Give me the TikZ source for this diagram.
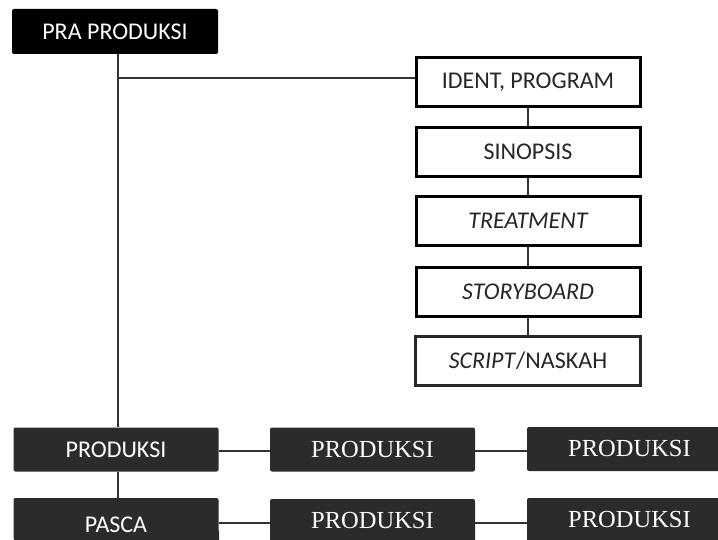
\documentclass[tikz,border=0pt]{standalone}
\usepackage{fontspec}
\setmainfont{Carlito}
\newfontfamily\serifface{Liberation Serif}
\definecolor{darkbox}{HTML}{2B2B2B}
\definecolor{lineclr}{HTML}{333333}
\begin{document}
\begin{tikzpicture}[x=1pt,y=-1pt,
  base/.style={inner sep=0pt, font=\fontsize{24}{26}\selectfont},
  blackbox/.style={base, fill=black, text=white, rounded corners=2pt, minimum width=206pt, minimum height=45pt},
  darkbox/.style={base, fill=darkbox, text=white, rounded corners=2pt, minimum width=205pt, minimum height=44pt},
  serifbox/.style={darkbox, font=\serifface\fontsize{24.5}{26}\selectfont},
  stackbox/.style={base, draw=black, line width=3pt, fill=white, text=black!85, minimum width=224pt, minimum height=49pt},
  thinbox/.style={base, draw=black!85, line width=2.2pt, fill=white, text=black!85, minimum width=225pt, minimum height=49pt},
  conn/.style={draw=lineclr, line width=1.6pt}
]
\clip (0,0) rectangle (718,540);
\fill[white] (0,0) rectangle (718,540);

% top
\node[blackbox] (pra) at (115,31.5) {\raisebox{-3pt}{PRA PRODUKSI}};
\node[stackbox] (ident) at (528,82) {IDENT, PROGRAM};
\node[stackbox] (sinop) at (528,152) {SINOPSIS};
\node[stackbox] (treat) at (528,221) {\itshape TREATMENT};
\node[stackbox] (story) at (528,292) {\itshape STORYBOARD};
\node[thinbox] (script) at (528,361) {\textit{SCRIPT}/NASKAH};

% bottom
\node[darkbox] (prod) at (116,449.5) {\raisebox{-2pt}{PRODUKSI}};
\fill[darkbox] (14,530) rectangle (219,545);
\node[darkbox, minimum height=42pt] (pasca) at (116,519) {\raisebox{-13.5pt}[0pt][0pt]{PASCA}};
\node[serifbox] (prodm) at (372.5,449.5) {PRODUKSI};
\node[serifbox] (prodr) at (629.5,449) {PRODUKSI};
\node[serifbox] (pascam) at (372.5,521) {PRODUKSI};
\node[serifbox] (pascar) at (629.5,520) {PRODUKSI};

% connectors
\coordinate (trunk) at (118,78);
\draw[conn] (pra.south -| trunk) -- (prod.north -| trunk);
\draw[conn] (trunk) -- (trunk -| ident.west);
\draw[conn] (ident.south) -- (sinop.north);
\draw[conn] (sinop.south) -- (treat.north);
\draw[conn] (treat.south) -- (story.north);
\draw[conn] (story.south) -- (script.north);
\draw[conn] (prod.south -| trunk) -- (pasca.north -| trunk);
\coordinate (r1) at (0,451);
\coordinate (r2) at (0,523);
\draw[conn] (prod.east |- r1) -- (prodm.west |- r1);
\draw[conn] (prodm.east |- r1) -- (prodr.west |- r1);
\draw[conn] (pasca.east |- r2) -- (pascam.west |- r2);
\draw[conn] (pascam.east |- r2) -- (pascar.west |- r2);
\end{tikzpicture}
\end{document}
